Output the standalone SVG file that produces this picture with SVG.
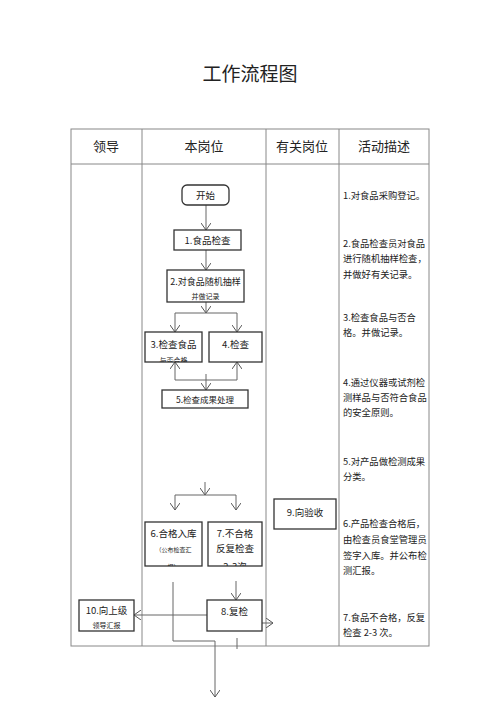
<svg xmlns="http://www.w3.org/2000/svg" width="500" height="707" viewBox="0 0 500 707">
<defs>
<style>
.t{font-family:"Noto Sans CJK SC","Liberation Sans",sans-serif;fill:#222}
.title{font-size:19px}
.hd{font-size:13px}
.box{fill:#fff;stroke:#333;stroke-width:1.3}
.bt{font-size:9.5px;text-anchor:middle}
.bs{font-size:7px;text-anchor:middle}
.ds{font-size:9.3px}
.grid{stroke:#888;stroke-width:1;fill:none}
.c{stroke:#666;stroke-width:1;fill:none}
</style>
<marker id="ar" markerWidth="8" markerHeight="10" refX="7" refY="5" orient="auto" markerUnits="userSpaceOnUse">
<path d="M0,0 L7,5 L0,10" fill="none" stroke="#555" stroke-width="1"/>
</marker>
<clipPath id="c2"><rect x="167" y="270" width="77" height="32"/></clipPath>
<clipPath id="c3"><rect x="145" y="332" width="57" height="30"/></clipPath>
<clipPath id="c6"><rect x="145" y="522" width="57" height="44"/></clipPath>
<clipPath id="c7"><rect x="208" y="522" width="54" height="44"/></clipPath>
<clipPath id="c10"><rect x="79" y="600" width="55" height="31"/></clipPath>
</defs>
<rect width="500" height="707" fill="#fff"/>
<text class="t title" x="250" y="81" text-anchor="middle">工作流程图</text>
<g id="table">
<rect class="grid" x="71" y="129" width="358" height="517"/>
<line class="grid" x1="71" y1="164" x2="429" y2="164"/>
<line class="grid" x1="142" y1="129" x2="142" y2="646"/>
<line class="grid" x1="266" y1="129" x2="266" y2="646"/>
<line class="grid" x1="339" y1="129" x2="339" y2="646"/>
<text class="t hd" x="106" y="151" text-anchor="middle">领导</text>
<text class="t hd" x="204" y="151" text-anchor="middle">本岗位</text>
<text class="t hd" x="302" y="151" text-anchor="middle">有关岗位</text>
<text class="t hd" x="384" y="151" text-anchor="middle">活动描述</text>
</g>
<g id="connectors">
<line class="c" x1="206" y1="205" x2="206" y2="230" marker-end="url(#ar)"/>
<line class="c" x1="206" y1="250" x2="206" y2="270" marker-end="url(#ar)"/>
<line class="c" x1="206" y1="302" x2="206" y2="313" marker-end="url(#ar)"/>
<polyline class="c" points="175,313 237,313"/>
<line class="c" x1="175" y1="313" x2="175" y2="332" marker-end="url(#ar)"/>
<line class="c" x1="237" y1="313" x2="237" y2="332" marker-end="url(#ar)"/>
<polyline class="c" points="175,380 237,380"/>
<line class="c" x1="175" y1="380" x2="175" y2="362" marker-end="url(#ar)"/>
<line class="c" x1="237" y1="380" x2="237" y2="362" marker-end="url(#ar)"/>
<line class="c" x1="206" y1="374" x2="206" y2="390" marker-end="url(#ar)"/>
<line class="c" x1="205" y1="482" x2="205" y2="495" marker-end="url(#ar)"/>
<polyline class="c" points="175,495 236,495"/>
<line class="c" x1="175" y1="495" x2="175" y2="510" marker-end="url(#ar)"/>
<line class="c" x1="236" y1="495" x2="236" y2="510" marker-end="url(#ar)"/>
<line class="c" x1="236" y1="581" x2="236" y2="600" marker-end="url(#ar)"/>
<line class="c" x1="207" y1="615" x2="134" y2="615" marker-end="url(#ar)"/>
<line class="c" x1="262" y1="623" x2="273" y2="623" marker-end="url(#ar)"/>
<polyline class="c" points="173,582 173,641 215,641 215,680"/>
<line class="c" x1="215" y1="680" x2="215" y2="697" marker-end="url(#ar)"/>
<line class="c" x1="237" y1="638" x2="237" y2="649"/>
</g>
<g id="start">
<rect class="box" x="182" y="185" width="47" height="20" rx="5"/>
<text class="t bt" x="205.5" y="199">开始</text>
</g>
<g id="n1">
<rect class="box" x="174" y="230" width="67" height="20"/>
<text class="t bt" x="207.5" y="244">1.食品检查</text>
</g>
<g id="n2">
<rect class="box" x="167" y="270" width="77" height="32"/>
<g clip-path="url(#c2)">
<text class="t bt" x="205.5" y="285" style="font-size:9px">2.对食品随机抽样</text>
<text class="t bs" x="205.5" y="299">并做记录</text>
</g>
</g>
<g id="n3">
<rect class="box" x="145" y="332" width="57" height="30"/>
<g clip-path="url(#c3)">
<text class="t bt" x="173.5" y="348">3.检查食品</text>
<text class="t bs" x="173.5" y="363">与否合格</text>
</g>
</g>
<g id="n4">
<rect class="box" x="209" y="332" width="53" height="30"/>
<text class="t bt" x="235.5" y="348">4.检查</text>
</g>
<g id="n5">
<rect class="box" x="162" y="390" width="86" height="18"/>
<text class="t bs" x="205" y="403" style="font-size:8.5px">5.检查成果处理</text>
</g>
<g id="n6">
<rect class="box" x="145" y="522" width="57" height="44"/>
<g clip-path="url(#c6)">
<text class="t bt" x="173.5" y="537">6.合格入库</text>
<text class="t bs" x="173.5" y="552" style="font-size:6px">（公布检查汇</text>
<text class="t bs" x="173.5" y="569" style="font-size:6px">报）</text>
</g>
</g>
<g id="n7">
<rect class="box" x="208" y="522" width="54" height="44"/>
<g clip-path="url(#c7)">
<text class="t bt" x="235" y="537">7.不合格</text>
<text class="t bt" x="235" y="552">反复检查</text>
<text class="t bt" x="235" y="570">2-3次</text>
</g>
</g>
<g id="n9">
<rect class="box" x="274" y="499" width="62" height="30"/>
<text class="t bt" x="305" y="516">9.向验收</text>
</g>
<g id="n8">
<rect class="box" x="207" y="600" width="55" height="31"/>
<text class="t bt" x="234.5" y="615">8.复检</text>
</g>
<g id="n10">
<rect class="box" x="79" y="600" width="55" height="31"/>
<g clip-path="url(#c10)">
<text class="t bt" x="106.5" y="614">10.向上级</text>
<text class="t bs" x="106.5" y="628">领导汇报</text>
</g>
</g>
<g id="desc">
<text class="t ds" x="343" y="199">1.对食品采购登记。</text>
<text class="t ds" x="343" y="247">2.食品检查员对食品</text>
<text class="t ds" x="343" y="262">进行随机抽样检查，</text>
<text class="t ds" x="343" y="278">并做好有关记录。</text>
<text class="t ds" x="343" y="321">3.检查食品与否合</text>
<text class="t ds" x="343" y="336">格。并做记录。</text>
<text class="t ds" x="343" y="386">4.通过仪器或试剂检</text>
<text class="t ds" x="343" y="401">测样品与否符合食品</text>
<text class="t ds" x="343" y="416">的安全原则。</text>
<text class="t ds" x="343" y="465">5.对产品做检测成果</text>
<text class="t ds" x="343" y="480">分类。</text>
<text class="t ds" x="343" y="527">6.产品检查合格后，</text>
<text class="t ds" x="343" y="543">由检查员食堂管理员</text>
<text class="t ds" x="343" y="559">签字入库。并公布检</text>
<text class="t ds" x="343" y="574">测汇报。</text>
<text class="t ds" x="343" y="621">7.食品不合格，反复</text>
<text class="t ds" x="343" y="636">检查 2-3 次。</text>
</g>
</svg>
